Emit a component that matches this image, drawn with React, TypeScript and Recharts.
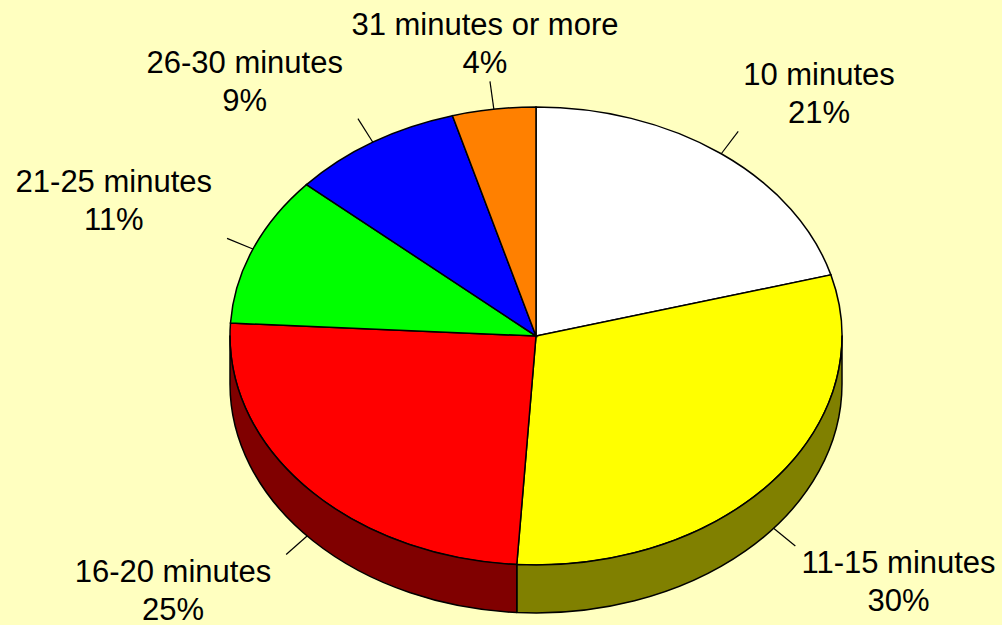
import React from "react";
import { Cell, Pie, PieChart } from "recharts";

// travel time to work, share of respondents (%)
const categories = ["10 minutes", "11-15 minutes", "16-20 minutes", "21-25 minutes", "26-30 minutes", "31 minutes or more"];
const shares = [20.7, 30.3, 24.9, 10.6, 9.1, 4.4];
const topColors = ["#FFFFFF", "#FFFF00", "#FF0000", "#00FF00", "#0000FF", "#FF8000"];
const wallColors = ["#808080", "#808000", "#800000", "#008000", "#000080", "#804000"];

const data = categories.map((name, i) => ({ name, value: shares[i] }));

const W = 1002;
const H = 625;
const CX = 536;
const CY = 336;
const RX = 306;
const RY = 229;
const DEPTH = 48;
const TILT = RY / RX;
const RAD = Math.PI / 180;
const FONT = 31;
const LINE = 38;
const TICK = 28;

// Arial / Liberation Sans advance widths (em)
const CHAR_W: Record<string, number> = {
  "0": 0.556, "1": 0.556, "2": 0.556, "3": 0.556, "4": 0.556, "5": 0.556, "6": 0.556, "7": 0.556, "8": 0.556, "9": 0.556,
  "-": 0.333, " ": 0.278, "%": 0.889, m: 0.833, i: 0.222, n: 0.556, u: 0.556, t: 0.278, e: 0.556, s: 0.5, o: 0.556, r: 0.333,
};
const textWidth = (s: string) => s.split("").reduce((w, c) => w + (CHAR_W[c] ?? 0.556), 0) * FONT;

const rim = (cx: number, cy: number, rx: number, ry: number, a: number, dy = 0) => [
  cx + rx * Math.cos(a * RAD),
  cy - ry * Math.sin(a * RAD) + dy,
];

const sectorCss = `
.recharts-sector {
  transform-box: view-box;
  transform-origin: 0 0;
  transform: translate(0px, ${CY}px) scale(1, ${TILT}) translate(0px, ${-CY}px);
  vector-effect: non-scaling-stroke;
}`;

// side wall + leader tick + two-line label for one slice
const renderSlice = (props: any) => {
  const { cx, cy, outerRadius, startAngle, endAngle, midAngle, percent, index } = props;
  const rx = outerRadius;
  const ry = outerRadius * TILT;

  let wall = null;
  const a0 = Math.max(Math.min(startAngle, endAngle), -180);
  const a1 = Math.min(Math.max(startAngle, endAngle), 0);
  if (a1 > a0) {
    const [x0, y0] = rim(cx, cy, rx, ry, a0);
    const [x1, y1] = rim(cx, cy, rx, ry, a1);
    const d = `M${x0},${y0} A${rx},${ry} 0 0 0 ${x1},${y1} L${x1},${y1 + DEPTH} A${rx},${ry} 0 0 1 ${x0},${y0 + DEPTH} Z`;
    wall = <path d={d} fill={wallColors[index]} stroke="#000" strokeWidth={1.5} strokeLinejoin="round" />;
  }

  const c = Math.cos(midAngle * RAD);
  const s = Math.sin(midAngle * RAD);
  const [rxp, ryp] = rim(cx, cy, rx, ry, midAngle, s < 0 ? DEPTH : 0);
  const tx = rxp + TICK * c;
  const ty = ryp - TICK * s;

  const name = categories[index];
  const pct = `${Math.round(percent * 100)}%`;
  const f = Math.sign(c) * Math.min(1, Math.max(0, (Math.abs(c) - 0.15) / 0.3));
  const x = tx + f * (textWidth(name) / 2 + 10) - 5;
  const y1 = s >= 0 ? ty - 8 - LINE : ty + 27;

  return (
    <g>
      {wall}
      <line x1={rxp} y1={ryp} x2={tx} y2={ty} stroke="#000" strokeWidth={1.2} />
      <text x={x} y={y1} textAnchor="middle" fontSize={FONT} fill="#000" fontFamily="'Liberation Sans', Arial, sans-serif">
        {name}
      </text>
      <text x={x} y={y1 + LINE} textAnchor="middle" fontSize={FONT} fill="#000" fontFamily="'Liberation Sans', Arial, sans-serif">
        {pct}
      </text>
    </g>
  );
};

export default function App() {
  return (
    <div style={{ position: "absolute", left: 0, top: 0, width: W, height: H, background: "#FFFFC0", overflow: "hidden" }}>
      <style>{sectorCss}</style>
      <PieChart width={W} height={H} margin={{ top: 0, right: 0, bottom: 0, left: 0 }}>
        <Pie
          data={data}
          dataKey="value"
          nameKey="name"
          cx={CX}
          cy={CY}
          outerRadius={RX}
          startAngle={90}
          endAngle={-270}
          stroke="#000"
          strokeWidth={1.5}
          label={renderSlice}
          labelLine={false}
          isAnimationActive={false}
        >
          {data.map((d, i) => (
            <Cell key={d.name} fill={topColors[i]} />
          ))}
        </Pie>
      </PieChart>
    </div>
  );
}
